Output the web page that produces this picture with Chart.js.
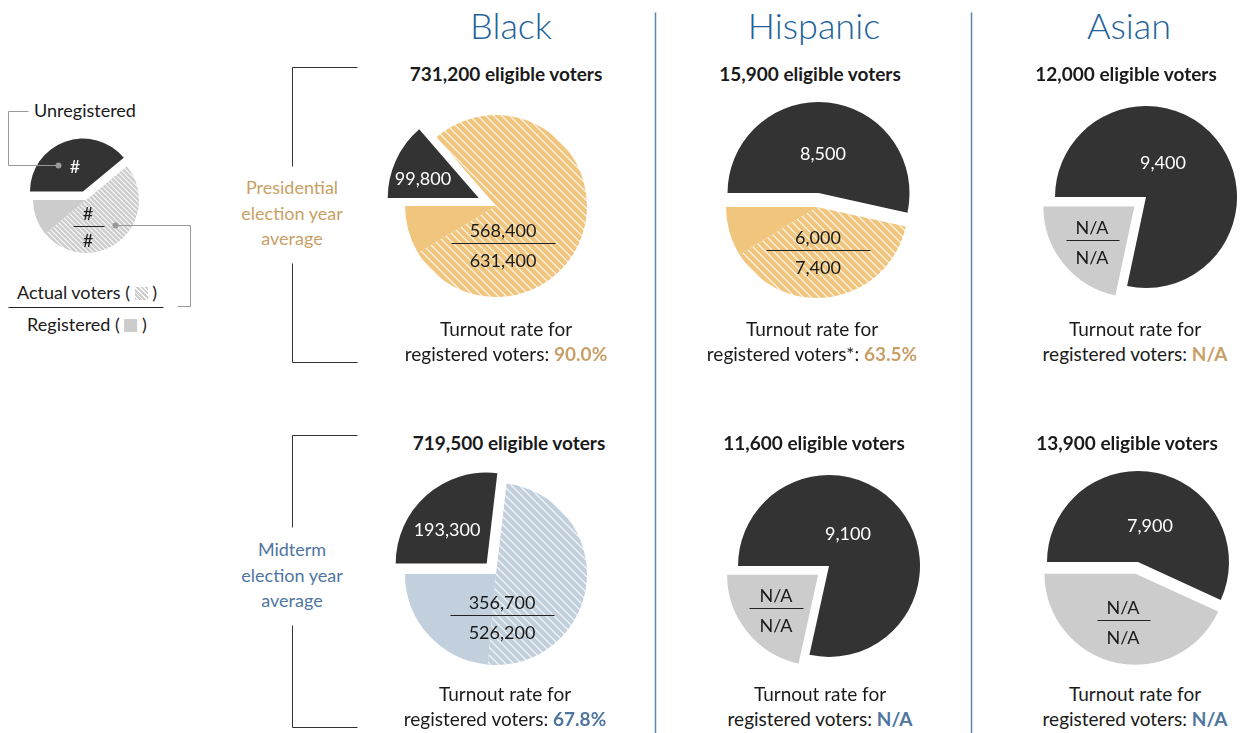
<!DOCTYPE html>
<html>
<head>
<meta charset="utf-8">
<script src="https://cdn.jsdelivr.net/npm/chart.js"></script>
<style>
  body { margin: 0; background: #fff; }
  #page { position: relative; width: 1243px; height: 733px; overflow: hidden; font-family: Lato, "Noto Sans", sans-serif; color: #1a1a1a; }
  canvas { position: absolute; }
  svg { position: absolute; left: 0; top: 0; pointer-events: none; }
  .t { position: absolute; transform: translate(-50%, -50%); white-space: nowrap; line-height: 1; font-size: 18px; }
  .title { font-size: 36px; font-weight: 300; color: #22629a; }
  .elig { font-weight: 700; font-size: 19px; }
  .turn { font-size: 19px; }
  .w { color: #fff; }
  .tan { color: #c89f66; }
  .blu { color: #4f76a0; }
  .pct { font-weight: 700; }
  .sw { display: inline-block; width: 13px; height: 13px; vertical-align: -1px; background: #cccccc; }
  .sw.h { background: repeating-linear-gradient(45deg, #cccccc 0 2px, #fff 2px 3.2px); }
</style>
</head>
<body>
<div id="page"></div>
<script>
// --- Data ---
const groups = ['Black', 'Hispanic', 'Asian'];

// Presidential election year average
const presEligible = [731200, 15900, 12000];
const presUnregistered = [99800, 8500, 9400];
const presRegistered = [631400, 7400, null];
const presVoted = [568400, 6000, null];
const presTurnout = ['90.0%', '63.5%', 'N/A'];
const presNote = ['', '*', ''];

// Midterm election year average
const midEligible = [719500, 11600, 13900];
const midUnregistered = [193300, 9100, 7900];
const midRegistered = [526200, null, null];
const midVoted = [356700, null, null];
const midTurnout = ['67.8%', 'N/A', 'N/A'];
const midNote = ['', '', ''];

// legend sample pie: unregistered, actual voters, registered only
const legendSlices = [39, 50, 11];

// --- Layout ---
const titleX = [511, 814, 1129];
const eligX = [[506, 810, 1126], [509, 814, 1127]];
const eligY = [73, 442];
const turnX = [[506, 812, 1135], [505, 820, 1135]];
const turnY = [[328, 353], [693, 718]];
const pieCenters = [[[496, 206], [817, 207], [1146, 197]], [[496, 574], [829, 566], [1138, 562]]];
const explodePx = [[19, 14, 15], [14, 14, 12]];
const unregPos = [[[-73, -28], [6, -54], [17, -35]], [[-49, -45], [19, -33], [12, -37]]];
const fracPos = [[[7, 24, 104], [1, 30, 104], [-54, 30, 53]], [[6, 28, 104], [-53, 29, 54], [-15, 45, 53]]];
const pieRadius = 91;

const DARK = '#333333';
const TAN = '#f0c67e';
const BLUE = '#c2d0dd';
const GRAY = '#cccccc';

const page = document.getElementById('page');
const svgNS = 'http://www.w3.org/2000/svg';
const svg = document.createElementNS(svgNS, 'svg');
svg.setAttribute('width', 1243);
svg.setAttribute('height', 733);

const fmt = v => v == null ? 'N/A' : v.toLocaleString('en-US');

const txt = (x, y, html, cls) => {
    const d = document.createElement('div');
    d.className = 't ' + (cls || '');
    d.style.left = x + 'px';
    d.style.top = y + 'px';
    d.innerHTML = html;
    page.appendChild(d);
    return d;
};

// crisp 1px lines: nudge onto half pixels
const line = (pts, color, width) => {
    const p = document.createElementNS(svgNS, 'polyline');
    p.setAttribute('points', pts.map(q => (Math.round(q[0]) + 0.5) + ',' + (Math.round(q[1]) + 0.5)).join(' '));
    p.setAttribute('fill', 'none');
    p.setAttribute('stroke', color);
    p.setAttribute('stroke-width', width || 1);
    svg.appendChild(p);
};

const dot = (x, y) => {
    const c = document.createElementNS(svgNS, 'circle');
    c.setAttribute('cx', x + 0.5); c.setAttribute('cy', y + 0.5); c.setAttribute('r', 3);
    c.setAttribute('fill', '#999');
    svg.appendChild(c);
};

// white diagonal hatching over a base colour
const hatch = (base, size) => {
    const c = document.createElement('canvas');
    c.width = size; c.height = size;
    const g = c.getContext('2d');
    g.fillStyle = base;
    g.fillRect(0, 0, size, size);
    g.strokeStyle = 'rgba(255,255,255,0.9)';
    g.lineWidth = 1.2;
    g.beginPath();
    g.moveTo(0, 0); g.lineTo(size, size);
    g.moveTo(-size / 2, size / 2); g.lineTo(size / 2, size * 1.5);
    g.moveTo(size / 2, -size / 2); g.lineTo(size * 1.5, size / 2);
    g.stroke();
    return g.createPattern(c, 'repeat');
};

// pulls one slice out of the pie along its middle angle
const explodePlugin = {
    id: 'explode',
    afterDatasetsUpdate(chart, args, opts) {
        const arc = chart.getDatasetMeta(0).data[opts.index];
        if (!arc) return;
        const mid = (arc.startAngle + arc.endAngle) / 2;
        arc.x += Math.cos(mid) * opts.px;
        arc.y += Math.sin(mid) * opts.px;
    }
};

const makePie = (cx, cy, r, values, colors, explodeIndex, px) => {
    const size = 2 * (r + px + 10);
    const cv = document.createElement('canvas');
    cv.width = size; cv.height = size;
    cv.style.left = (cx - size / 2) + 'px';
    cv.style.top = (cy - size / 2) + 'px';
    page.appendChild(cv);
    new Chart(cv.getContext('2d'), {
        type: 'pie',
        data: {
            datasets: [{
                data: values,
                backgroundColor: colors,
                borderWidth: 0
            }]
        },
        options: {
            responsive: false,
            animation: false,
            events: [],
            rotation: 270,
            radius: r,
            layout: { padding: 0 },
            plugins: {
                legend: { display: false },
                tooltip: { enabled: false },
                explode: { index: explodeIndex, px: px }
            }
        },
        plugins: [explodePlugin]
    });
};

// --- Column titles and dividers ---
groups.forEach((g, i) => txt(titleX[i], 25, g, 'title'));
line([[655, 12], [655, 733]], '#5a87b0', 1.5);
line([[971, 12], [971, 733]], '#5a87b0', 1.5);

// --- Row brackets and labels ---
line([[357, 67], [292, 67], [292, 166]], '#333');
line([[292, 263], [292, 362], [357, 362]], '#333');
line([[357, 435], [292, 435], [292, 527]], '#333');
line([[292, 625], [292, 727], [357, 727]], '#333');
txt(292, 187, 'Presidential', 'tan');
txt(292, 213, 'election year', 'tan');
txt(292, 238, 'average', 'tan');
txt(292, 549, 'Midterm', 'blu');
txt(292, 575, 'election year', 'blu');
txt(292, 600, 'average', 'blu');

// --- The six pies ---
const rowsData = [
    { elig: presEligible, unreg: presUnregistered, reg: presRegistered, voted: presVoted, turn: presTurnout, note: presNote, base: TAN, pct: 'tan' },
    { elig: midEligible, unreg: midUnregistered, reg: midRegistered, voted: midVoted, turn: midTurnout, note: midNote, base: BLUE, pct: 'blu' }
];

rowsData.forEach((row, r) => {
    const stripes = hatch(row.base, 8);
    groups.forEach((g, i) => {
        const [cx, cy] = pieCenters[r][i];
        const known = row.reg[i] != null;
        const values = known
            ? [row.unreg[i], row.voted[i], row.reg[i] - row.voted[i]]
            : [row.unreg[i], row.elig[i] - row.unreg[i]];
        const colors = known ? [DARK, stripes, row.base] : [DARK, GRAY];
        makePie(cx, cy, pieRadius, values, colors, known ? 0 : 1, explodePx[r][i]);

        txt(eligX[r][i], eligY[r], fmt(row.elig[i]) + ' eligible voters', 'elig');
        txt(cx + unregPos[r][i][0], cy + unregPos[r][i][1], fmt(row.unreg[i]), 'w');
        const [fx, fy, fw] = fracPos[r][i];
        txt(cx + fx, cy + fy, fmt(row.voted[i]));
        line([[cx + fx - fw / 2, cy + fy + 13], [cx + fx + fw / 2, cy + fy + 13]], '#222');
        txt(cx + fx, cy + fy + 30, fmt(row.reg[i]));

        txt(turnX[r][i], turnY[r][0], 'Turnout rate for', 'turn');
        txt(turnX[r][i], turnY[r][1], 'registered voters' + row.note[i] + ': <span class="pct ' + row.pct + '">' + row.turn[i] + '</span>', 'turn');
    });
});

// --- Legend (how to read a pie) ---
makePie(86, 200, 53, legendSlices, [DARK, hatch(GRAY, 5), GRAY], 0, 9);
txt(85, 110, 'Unregistered');
line([[28, 111], [8, 111], [8, 165], [58, 165]], '#999');
dot(58, 165);
txt(75, 166, '#', 'w');
txt(88, 213, '#');
line([[73, 226], [104, 226]], '#222');
txt(88, 240, '#');
line([[115, 225], [190, 225], [190, 306], [177, 306]], '#999');
dot(115, 225);
txt(87, 292, 'Actual voters ( <span class="sw h"></span> )');
line([[8, 307], [163, 307]], '#222');
txt(87, 324, 'Registered ( <span class="sw"></span> )');

page.appendChild(svg);
</script>
</body>
</html>
